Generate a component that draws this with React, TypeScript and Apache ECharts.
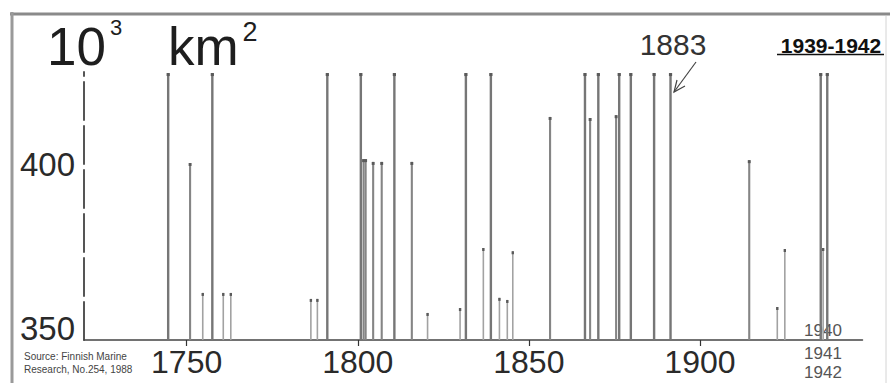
import React, { useEffect, useRef } from "react";
import * as echarts from "echarts";

// Positions of the vertical bars along the year axis
const years = [
  1744.6, 1751.0, 1754.7, 1757.5, 1760.7, 1762.9, 1786.3, 1788.2, 1791.1,
  1800.9, 1801.7, 1802.3, 1804.5, 1807.0, 1810.7, 1815.8, 1820.4, 1829.9,
  1831.6, 1836.7, 1838.9, 1841.4, 1843.7, 1845.3, 1856.2, 1866.4, 1867.9,
  1870.3, 1875.5, 1876.4, 1879.8, 1886.6, 1891.4, 1914.4, 1922.6, 1924.8,
  1935.3, 1936.0, 1937.2,
];
// Maximum ice extent, 10^3 km2
const extent = [
  426, 400.4, 363.4, 426, 363.4, 363.4, 361.7, 361.7, 426,
  426, 401.5, 401.5, 400.7, 400.7, 426, 400.7, 357.7, 359.1,
  426, 376.2, 426, 362.0, 361.4, 375.3, 413.5, 426, 413.2,
  426, 414.0, 426, 426, 426, 426, 401.2, 359.4, 375.9,
  426, 376.2, 426,
];
const xTickYears = [1750, 1800, 1850, 1900];
const yTickValues = [350, 400];
const sideYears = ["1940", "1941", "1942"];

const FONT = "'Liberation Sans', Arial, sans-serif";

export default function App() {
  const ref = useRef<HTMLDivElement>(null);

  useEffect(() => {
    if (!ref.current) return;
    const chart = echarts.init(ref.current, null, { renderer: "svg" });
    const data = years.map((y, i) => [y, extent[i]]);

    chart.setOption({
      animation: false,
      backgroundColor: "#ffffff",
      grid: { left: 84, right: 27.5, top: 72, bottom: 43, containLabel: false },
      xAxis: {
        type: "value",
        min: 1720,
        max: 1947.5,
        splitLine: { show: false },
        axisLine: { show: true, onZero: false, lineStyle: { color: "#444", width: 1.5 } },
        axisTick: { show: true, customValues: xTickYears, length: 6, lineStyle: { color: "#333", width: 1.2 } },
        axisLabel: {
          customValues: xTickYears,
          formatter: (v: number) => String(v),
          fontSize: 32,
          fontFamily: FONT,
          color: "#2a2a2a",
          margin: 6,
        },
      },
      yAxis: {
        type: "value",
        min: 350,
        max: 426.3,
        splitLine: { show: false },
        axisTick: { show: false },
        axisLine: { show: true, lineStyle: { color: "#555", width: 2, type: [38, 6] } },
        axisLabel: {
          customValues: yTickValues,
          margin: 9,
          formatter: (v: number) => (v === 350 ? "{up|350}" : "{n|" + String(v) + "}"),
          rich: {
            up: { fontSize: 33, fontFamily: FONT, color: "#2a2a2a", padding: [0, 0, 24, 0] },
            n: { fontSize: 33, fontFamily: FONT, color: "#2a2a2a" },
          },
        },
      },
      series: [
        {
          type: "custom",
          clip: false,
          encode: { x: 0, y: 1 },
          data,
          renderItem: (params: any, api: any) => {
            const x = api.value(0);
            const v = api.value(1);
            const top = api.coord([x, v]);
            const base = api.coord([x, 350]);
            const w = v >= 420 ? 2.4 : v >= 390 ? 2.1 : 1.6;
            const color = v >= 420 ? "#767676" : v >= 390 ? "#858585" : "#a2a2a2";
            return {
              type: "group",
              children: [
                {
                  type: "rect",
                  shape: { x: top[0] - w / 2, y: top[1], width: w, height: base[1] - top[1] },
                  style: { fill: color },
                },
                {
                  type: "rect",
                  shape: { x: top[0] - w / 2 - 0.4, y: top[1], width: w + 0.8, height: 3 },
                  style: { fill: "#5a5a5a" },
                },
              ],
            };
          },
        },
      ],
      graphic: [
        // frame
        { type: "line", shape: { x1: 10, y1: 14, x2: 890, y2: 14 }, style: { stroke: "#8a8a8a", lineWidth: 3 } },
        { type: "line", shape: { x1: 12, y1: 12, x2: 12, y2: 383 }, style: { stroke: "#9a9a9a", lineWidth: 3 } },
        { type: "line", shape: { x1: 886, y1: 16, x2: 886, y2: 383 }, style: { stroke: "#d4d4d4", lineWidth: 1 } },
        // unit title
        { type: "text", x: 47, y: 46, style: { text: "10", fontSize: 53, fontFamily: FONT, fill: "#1e1e1e", verticalAlign: "middle", align: "left" } },
        { type: "text", x: 116, y: 27, style: { text: "3", fontSize: 22, fontFamily: FONT, fill: "#1e1e1e", verticalAlign: "middle", align: "center" } },
        { type: "text", x: 168, y: 46, style: { text: "km", fontSize: 53, fontFamily: FONT, fill: "#1e1e1e", verticalAlign: "middle", align: "left" } },
        { type: "text", x: 250, y: 32, style: { text: "2", fontSize: 27, fontFamily: FONT, fill: "#1e1e1e", verticalAlign: "middle", align: "center" } },
        // 1883 annotation
        { type: "text", x: 673, y: 44, style: { text: "1883", fontSize: 30, fontFamily: FONT, fill: "#333", verticalAlign: "middle", align: "center" } },
        { type: "polyline", shape: { points: [[696, 62], [674, 92]] }, style: { stroke: "#444", lineWidth: 1.2, fill: null } },
        { type: "polyline", shape: { points: [[677, 80], [674, 92], [685, 86]] }, style: { stroke: "#444", lineWidth: 1.2, fill: null } },
        // 1939-1942
        { type: "text", x: 831, y: 45, style: { text: "1939-1942", fontSize: 21, fontWeight: "bold", fontFamily: FONT, fill: "#111", verticalAlign: "middle", align: "center" } },
        { type: "line", shape: { x1: 777, y1: 54.5, x2: 884, y2: 54.5 }, style: { stroke: "#111", lineWidth: 1.6 } },
        // side years
        ...sideYears.map((t, i) => ({
          type: "text",
          x: 823,
          y: [330, 353, 372][i],
          style: { text: t, fontSize: 17, fontFamily: FONT, fill: "#555", verticalAlign: "middle", align: "center" },
        })),
        // source
        { type: "text", x: 24, y: 356, style: { text: "Source: Finnish Marine", fontSize: 10, fontFamily: FONT, fill: "#444", verticalAlign: "middle", align: "left" } },
        { type: "text", x: 24, y: 369, style: { text: "Research, No.254, 1988", fontSize: 10, fontFamily: FONT, fill: "#444", verticalAlign: "middle", align: "left" } },
      ],
    });
    return () => chart.dispose();
  }, []);

  return (
    <div
      ref={ref}
      style={{ position: "fixed", left: 0, top: 0, width: 890, height: 383, background: "#fff" }}
    />
  );
}
